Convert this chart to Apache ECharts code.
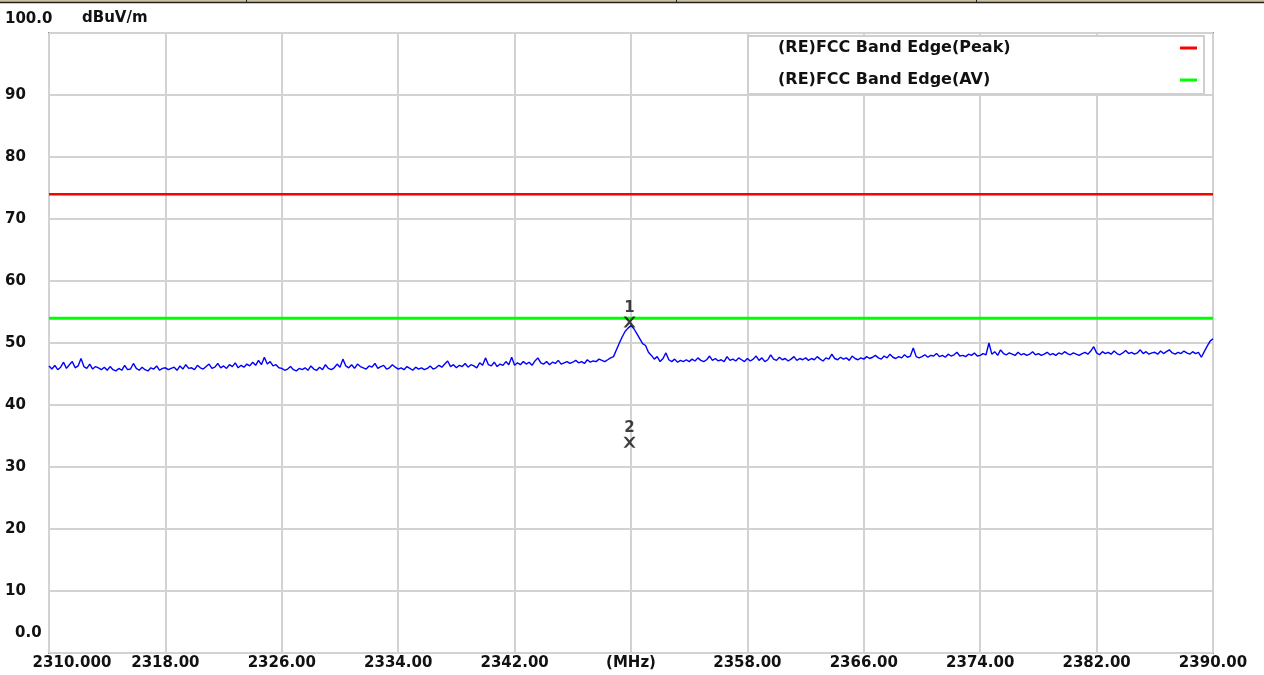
<!DOCTYPE html>
<html>
<head>
<meta charset="utf-8">
<title>Band Edge</title>
<script src="https://cdn.jsdelivr.net/npm/echarts@6/dist/echarts.min.js"></script>
<style>
  html, body { margin: 0; padding: 0; background: #fff; }
  #chart { width: 1264px; height: 675px; }
</style>
</head>
<body>
<div id="chart"></div>
<script>
// sweep grid of the analyser trace
const startFreq = 2310
const stepFreq = 0.2

// measured level (dBuV/m), 20 points per 4 MHz row
const traceLevels = [
  46.3, 45.8, 46.4, 45.7, 46.1, 46.9, 45.9, 46.5, 47.0, 46.0, 46.3, 47.5, 46.2, 45.9, 46.6, 45.8, 46.2, 46.0, 45.7, 46.1,
  45.6, 46.2, 45.7, 45.5, 45.9, 45.6, 46.4, 45.7, 45.8, 46.7, 45.9, 45.6, 46.1, 45.7, 45.5, 46.0, 45.8, 46.3, 45.6, 45.9,
  46.0, 45.7, 45.9, 46.1, 45.6, 46.3, 45.8, 46.5, 45.9, 46.0, 45.7, 46.4, 46.0, 45.8, 46.2, 46.6, 45.9, 46.1, 46.7, 46.0,
  46.3, 45.9, 46.5, 46.2, 46.8, 46.0, 46.4, 46.1, 46.6, 46.3, 46.9, 46.4, 47.2, 46.5, 47.7, 46.6, 47.0, 46.3, 46.5, 46.0,
  45.9, 45.6, 45.8, 46.2, 45.7, 45.5, 45.9, 45.7, 46.0, 45.6, 46.3, 45.8, 45.6, 46.1, 45.7, 46.5, 45.9, 45.7, 46.0, 46.6,
  46.1, 47.4, 46.3, 46.0, 46.5, 45.9, 46.6, 46.2, 46.0, 45.8, 46.3, 46.1, 46.7, 45.9, 46.2, 46.4, 45.8, 46.0, 46.5, 46.1,
  45.8, 46.0, 45.7, 46.2, 45.9, 45.6, 46.1, 45.8, 46.0, 45.7, 45.9, 46.3, 45.8, 46.0, 46.4, 46.1, 46.6, 47.1, 46.2, 46.5,
  46.0, 46.4, 46.2, 46.7, 46.1, 46.5, 46.3, 46.0, 46.8, 46.4, 47.6, 46.5, 46.3, 46.9, 46.2, 46.6, 46.4, 47.0, 46.5, 47.7,
  46.4, 46.8, 46.5, 47.0, 46.6, 46.9, 46.4, 47.1, 47.6, 46.8, 46.6, 47.0, 46.5, 46.9, 46.7, 47.2, 46.6, 46.8, 47.0, 46.7,
  46.9, 47.2, 46.8, 47.0, 46.7, 47.3, 46.9, 47.1, 47.0, 47.4, 47.2, 47.0, 47.3, 47.6, 47.8, 48.9, 50.0, 51.0, 51.9, 52.4,
  52.8, 52.3, 51.5, 50.7, 49.9, 49.6, 48.5, 48.0, 47.4, 47.8, 47.0, 47.5, 48.4, 47.3, 47.0, 47.4, 46.9, 47.2, 47.0, 47.3,
  47.0, 47.4, 47.1, 47.6, 47.2, 47.0, 47.3, 47.9, 47.2, 47.5, 47.1, 47.3, 47.0, 47.8, 47.2, 47.4, 47.1, 47.6, 47.3, 47.0,
  47.5, 47.1, 47.4, 47.9, 47.2, 47.6, 47.0, 47.3, 48.1, 47.4, 47.2, 47.7, 47.3, 47.5, 47.1, 47.4, 47.8, 47.2, 47.5, 47.3,
  47.6, 47.2, 47.5, 47.3, 47.8, 47.4, 47.1, 47.6, 47.4, 48.2, 47.5, 47.3, 47.7, 47.4, 47.6, 47.2, 47.9, 47.5, 47.3, 47.6,
  47.4, 47.8, 47.5, 47.7, 48.0, 47.6, 47.4, 47.9, 47.6, 48.2, 47.7, 47.5, 47.8, 47.6, 48.1, 47.7, 47.9, 49.2, 47.8, 47.6,
  47.8, 48.1, 47.7, 48.0, 47.9, 48.3, 47.8, 48.0, 47.7, 48.2, 47.9, 48.1, 48.5, 47.9, 48.0, 47.8, 48.2, 48.0, 48.4, 47.9,
  48.0, 48.3, 48.1, 50.0, 48.2, 48.6, 48.0, 48.9, 48.3, 48.1, 48.4, 48.2, 48.0, 48.5, 48.1, 48.3, 48.0, 48.2, 48.6, 48.1,
  48.3, 48.0, 48.2, 48.5, 48.1, 48.3, 48.0, 48.4, 48.2, 48.6, 48.3, 48.1, 48.4, 48.2, 48.0, 48.3, 48.5, 48.2, 48.7, 49.4,
  48.4, 48.1, 48.6, 48.3, 48.5, 48.2, 48.7, 48.3, 48.1, 48.4, 48.8, 48.3, 48.5, 48.2, 48.4, 48.9, 48.3, 48.6, 48.2, 48.4,
  48.5, 48.2, 48.7, 48.3, 48.6, 48.9, 48.4, 48.2, 48.5, 48.3, 48.7, 48.4, 48.2, 48.6, 48.3, 48.5, 47.7, 48.6, 49.5, 50.3,
  50.7
]

const limitNames = ['(RE)FCC Band Edge(Peak)', '(RE)FCC Band Edge(AV)']
const limitLevels = [74, 54]
const limitColors = ['#ff0000', '#00ff00']

const markerNames = ['1', '2']
const markerFreqs = [2349.9, 2349.9]
const markerLevels = [53.4, 34.0]

const xTickLabels = ['2310.000', '2318.00', '2326.00', '2334.00', '2342.00', '(MHz)',
  '2358.00', '2366.00', '2374.00', '2382.00', '2390.00']
const yTickLabels = ['0.0', '10', '20', '30', '40', '50', '60', '70', '80', '90', '100.0']

const FONT = "'DejaVu Sans', 'Liberation Sans', sans-serif"

const traceData = traceLevels.map((v, i) => [+(startFreq + i * stepFreq).toFixed(1), v])

const chart = echarts.init(document.getElementById('chart'))

const limitSeries = limitNames.map((name, i) => ({
  name: name,
  type: 'line',
  data: [[2310, limitLevels[i]], [2390, limitLevels[i]]],
  showSymbol: false,
  lineStyle: { color: limitColors[i], width: i === 0 ? 2.5 : 3 },
  itemStyle: { color: limitColors[i] },
  z: 3
}))

const markerSeries = markerNames.map((name, i) => ({
  name: 'marker' + name,
  type: 'scatter',
  data: [[markerFreqs[i], markerLevels[i]]],
  symbol: 'path://M0,0L2.2,0L5,3.2L7.8,0L10,0L6.2,5L10,10L7.8,10L5,6.8L2.2,10L0,10L3.8,5Z',
  symbolSize: [12, 11],
  itemStyle: { color: '#111' },
  label: {
    show: true,
    position: 'top',
    distance: 1,
    formatter: name,
    color: '#111',
    fontFamily: FONT,
    fontWeight: 'bold',
    fontSize: 15
  },
  z: 5
}))

const option = {
  animation: false,
  backgroundColor: '#fff',
  grid: {
    left: 49,
    right: 51,
    top: 33,
    bottom: 22,
    show: true,
    borderColor: '#8a8a8a',
    borderWidth: 2,
    backgroundColor: '#fff'
  },
  legend: {
    data: limitNames,
    orient: 'vertical',
    left: 748,
    top: 36,
    align: 'right',
    padding: [4, 7, 6, 30],
    itemGap: 16,
    itemWidth: 17,
    itemHeight: 3,
    icon: 'rect',
    backgroundColor: '#fff',
    borderColor: '#cfcfcf',
    borderWidth: 2,
    selectedMode: false,
    formatter: name => '{t|' + name + '}',
    textStyle: {
      color: '#111',
      fontFamily: FONT,
      fontWeight: 'bold',
      fontSize: 16,
      rich: {
        t: {
          width: 397,
          align: 'left',
          color: '#111',
          fontFamily: FONT,
          fontWeight: 'bold',
          fontSize: 16
        }
      }
    }
  },
  xAxis: {
    type: 'value',
    min: 2310,
    max: 2390,
    interval: 8,
    axisLine: { show: false },
    axisTick: { show: false },
    splitLine: { lineStyle: { color: '#d2d2d2', width: 2 } },
    axisLabel: {
      margin: 3,
      color: '#111',
      fontFamily: FONT,
      fontWeight: 'bold',
      fontSize: 15,
      formatter: v => {
        const i = Math.round((v - 2310) / 8)
        return i === 0 ? '{first|' + xTickLabels[i] + '}' : xTickLabels[i]
      },
      rich: {
        first: { padding: [0, 0, 0, 46], fontFamily: FONT, fontWeight: 'bold', fontSize: 15, color: '#111' }
      }
    }
  },
  yAxis: {
    type: 'value',
    min: 0,
    max: 100,
    interval: 10,
    axisLine: { show: false },
    axisTick: { show: false },
    splitLine: { lineStyle: { color: '#d2d2d2', width: 2 } },
    axisLabel: {
      margin: 44,
      align: 'left',
      color: '#111',
      fontFamily: FONT,
      fontWeight: 'bold',
      fontSize: 15,
      formatter: v => {
        const i = Math.round(v / 10)
        if (i === 10) return '{top|' + yTickLabels[i] + '}'
        if (i === 0) return '{zero|' + yTickLabels[i] + '}'
        return yTickLabels[i]
      },
      rich: {
        top: { padding: [0, 0, 28, 0], fontFamily: FONT, fontWeight: 'bold', fontSize: 15, color: '#111' },
        zero: { padding: [0, 0, 40, 10], fontFamily: FONT, fontWeight: 'bold', fontSize: 15, color: '#111' }
      }
    }
  },
  graphic: [
    { type: 'rect', shape: { x: 0, y: 0, width: 1264, height: 2 }, style: { fill: '#cdc29c' } },
    { type: 'line', shape: { x1: 0, y1: 2.5, x2: 1264, y2: 2.5 }, style: { stroke: '#222', lineWidth: 1.5 } },
    { type: 'line', shape: { x1: 246.5, y1: 0, x2: 246.5, y2: 3 }, style: { stroke: '#222', lineWidth: 1 } },
    { type: 'line', shape: { x1: 676.5, y1: 0, x2: 676.5, y2: 3 }, style: { stroke: '#222', lineWidth: 1 } },
    { type: 'line', shape: { x1: 976.5, y1: 0, x2: 976.5, y2: 3 }, style: { stroke: '#222', lineWidth: 1 } },
    {
      type: 'text', left: 82, top: 11,
      style: { text: 'dBuV/m', fill: '#111', font: 'bold 15px ' + FONT }
    }
  ],
  series: [
    {
      name: 'trace',
      type: 'line',
      data: traceData,
      showSymbol: false,
      lineStyle: { color: '#0000ff', width: 1.4 },
      z: 4
    },
    ...limitSeries,
    ...markerSeries
  ]
}

chart.setOption(option)
window.addEventListener('resize', () => chart.resize())
</script>
</body>
</html>
